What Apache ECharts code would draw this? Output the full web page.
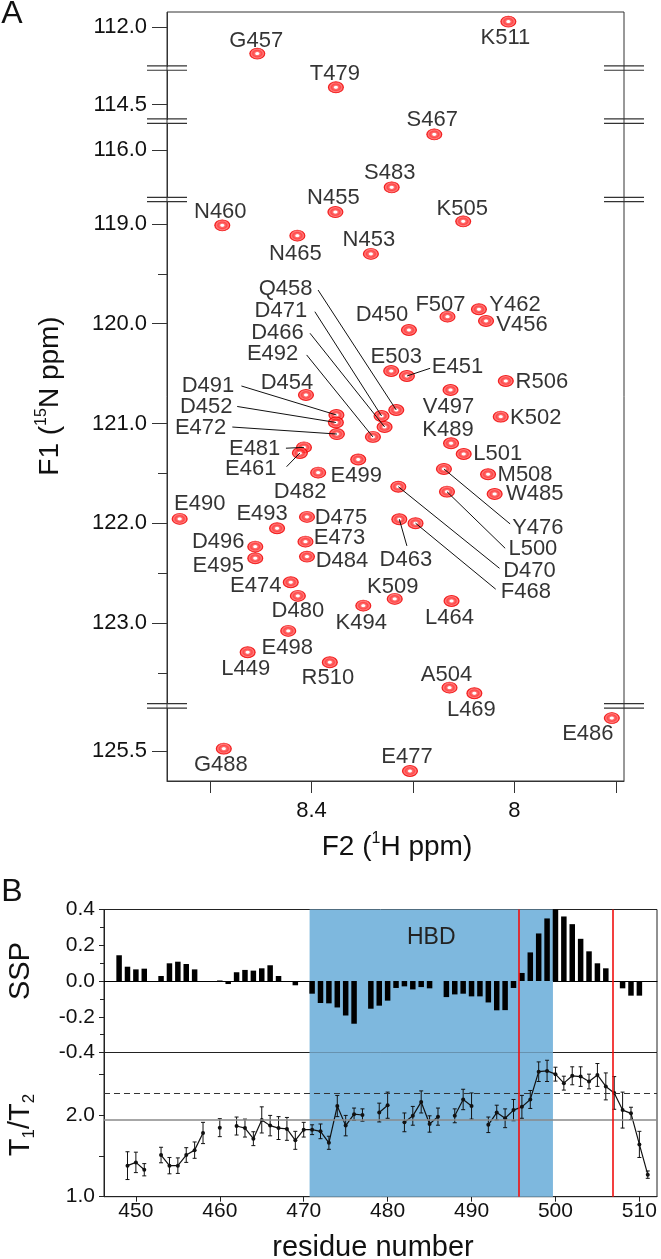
<!DOCTYPE html>
<html><head><meta charset="utf-8">
<script src="https://cdn.jsdelivr.net/npm/echarts@6/dist/echarts.min.js"></script>
<style>html,body{margin:0;padding:0;background:#fff}#c{width:661px;height:1259px}</style>
</head><body><div id="c"></div>
<script>
// ---------- Panel A data: 1H-15N HSQC peaks ----------
const peakNames = ['K511','G457','T479','S467','S483','N455','N460','K505','N465','N453',
  'F507','Y462','V456','D450','E503','E451','R506','D454','V497','K502',
  'D491','D452','E472','Q458','D471','D466','E492','K489','L501','E481',
  'E461','E499','D482','Y476','M508','W485','L500','D470','F468','D463',
  'E490','E493','D475','E473','D484','D496','E495','E474','D480','K509',
  'K494','L464','E498','L449','R510','A504','L469','E486','G488','E477'];
const peakH = [8.012,8.507,8.352,8.158,8.242,8.353,8.576,8.101,8.428,8.283,
  8.132,8.070,8.056,8.208,8.243,8.212,8.017,8.411,8.126,8.027,
  8.351,8.352,8.350,8.233,8.262,8.256,8.279,8.125,8.100,8.415,
  8.423,8.308,8.387,8.139,8.052,8.039,8.133,8.229,8.195,8.227,
  8.660,8.468,8.409,8.412,8.409,8.511,8.511,8.441,8.427,8.236,
  8.298,8.124,8.446,8.526,8.364,8.128,8.079,7.808,8.573,8.206];
const peakN = [111.946,112.267,114.327,115.844,116.375,118.880,119.013,118.973,119.117,119.300,
  119.929,119.855,119.972,120.063,120.474,120.524,120.574,120.714,120.664,120.932,
  120.915,120.990,121.106,120.865,120.925,121.035,121.135,121.198,121.306,121.240,
  121.296,121.361,121.493,121.456,121.509,121.707,121.684,121.634,122.000,121.960,
  121.957,122.051,121.937,122.185,122.335,122.235,122.351,122.592,122.729,122.759,
  122.827,122.780,123.080,123.294,123.394,123.649,123.705,125.169,125.476,125.700];
const nTickLabels = [112.0, 114.5, 116.0, 119.0, 120.0, 121.0, 122.0, 123.0, 125.5];
const nMinorTicks = [119.5, 121.5, 122.5, 123.5];
const nBreaks = [[112.39,114.156],[114.644,115.733],[116.475,118.776],[123.81,125.069]];
const hTicks = [7.8, 8.0, 8.2, 8.4, 8.6];
const hTickLabels = [8.0, 8.4];

// ---------- Panel B data ----------
const sspResidues = [448,449,450,451,452,453,454,455,456,457,458,459,460,461,462,463,464,465,466,467,468,469,470,
  471,472,473,474,475,476,477,478,479,480,481,482,483,484,485,486,487,488,489,490,491,492,493,494,495,
  496,497,498,499,500,501,502,503,504,505,506,507,508,509,510];
const sspValues = [0.144,0.080,0.065,0.069,null,0.028,0.099,0.108,0.095,0.065,null,-0.004,0.003,-0.017,0.049,0.062,0.058,0.071,0.088,0.028,-0.004,-0.024,null,
  -0.071,-0.123,-0.125,-0.148,-0.193,-0.239,null,-0.155,-0.138,-0.110,-0.039,-0.030,-0.047,-0.034,-0.041,null,-0.090,-0.075,-0.071,-0.086,-0.086,-0.120,-0.164,-0.163,-0.039,
  0.045,0.160,0.266,0.350,0.400,0.361,0.318,0.236,0.166,0.099,0.071,null,-0.041,-0.082,-0.082];
const relaxResidues = [449,450,451,452,453,454,455,456,457,458,459,460,461,462,463,464,465,466,467,468,469,470,
  471,472,473,474,475,476,477,478,479,480,481,482,483,484,485,486,487,488,489,490,491,492,493,494,495,
  496,497,498,499,500,501,502,503,504,505,506,507,508,509,510,511];
const relaxValues = [1.38,1.42,1.33,null,1.51,1.38,1.38,1.51,1.57,1.78,null,1.845,null,1.865,1.84,1.71,1.94,1.87,1.84,1.83,1.69,1.82,
  1.82,1.80,1.66,2.11,1.87,2.01,2.00,null,2.03,2.12,null,1.91,1.99,2.16,1.89,1.98,null,1.99,2.19,2.11,null,1.88,2.03,1.96,2.06,
  2.10,2.19,2.53,2.54,2.50,2.39,2.48,2.47,2.41,2.49,2.35,2.27,2.06,2.02,1.64,1.27];
const relaxErrors = [0.17,0.125,0.075,null,0.095,0.10,0.095,0.09,0.10,0.13,null,0.11,null,0.11,0.11,0.085,0.16,0.125,0.14,0.14,0.11,0.09,
  0.06,0.09,0.08,0.13,0.125,0.075,0.075,null,0.115,0.16,null,0.115,0.115,0.135,0.10,0.105,null,0.085,0.125,0.16,null,0.095,0.09,0.115,0.13,
  0.14,0.11,0.12,0.13,0.085,0.085,0.11,0.12,0.09,0.14,0.165,0.20,0.22,0.075,0.16,0.045];
const residueTicks = [450,460,470,480,490,500,510];
const relaxTickLabels = [1.0, 2.0];
const relaxTicks = [1.0, 1.5, 2.0, 2.5];
const hbdRange = [470.7, 499.7];
const redLines = [495.7, 506.8];
const relaxMean = 1.939;
const relaxDashed = 2.266;

// ---------- layout (label offsets in px relative to each peak) ----------
const labelOffsets = {K511:[-3,15],G457:[-1,-14],T479:[-1,-14],S467:[-2,-15],S483:[-2,-15],N455:[-2,-15],N460:[-2,-14],K505:[-1,-13],N465:[-2,17],N453:[-2,-15],
  F507:[-7,-13],Y462:[36,-5],V456:[36,3],D450:[-27,-16],E503:[5,-15],E451:[50.6,-10],R506:[36,0],D454:[-19,-13],V497:[-2,16],K502:[35,0],
  D491:[-128.4,-30],D452:[-129.7,-16.7],E472:[-136.3,-7],Q458:[-110.7,-121.7],D471:[-100.7,-106],D466:[-107.1,-95.3],E492:[-100.3,-84.3],K489:[-3,-14],L501:[34,-1],E481:[-49.3,0.2],
  E461:[-49.2,15.3],E499:[-2,15.5],D482:[-18,18],Y476:[93.9,57.7],M508:[37,0],W485:[40,-1],L500:[85.9,56.6],D470:[131.2,83.3],F468:[110.3,67.7],D463:[6.6,40],
  E490:[20,-16],E493:[-15,-15],D475:[34,0],E473:[34,-5],D484:[35,3],D496:[-37,-6],E495:[-37,7],E474:[-35,3],D480:[0,14],K509:[-2,-13],
  K494:[-2,16],L464:[-2,16],E498:[-1,16],L449:[-2,16],R510:[-2,15],A504:[-3,-14],L469:[-3,16],E486:[-24,15],G488:[-3,15],E477:[-3,-15]};
const leaderOffsets = {Q458:[-78.2,-120],D471:[-66.7,-104.3],D466:[-74.6,-93.7],E492:[-66.3,-82],D491:[-95,-29],D452:[-98.7,-16],E472:[-104.6,-7],
  E481:[-18,0.8],E461:[-13.3,13.7],E451:[23.2,-7.7],Y476:[66.2,55],L500:[58.2,56.6],D470:[101.2,81.6],F468:[80.2,66],D463:[7.6,26.7]};

const FONT = 'Liberation Sans, Arial, Helvetica, sans-serif';
const AX = '#333';
const chart = echarts.init(document.getElementById('c'), null, {renderer:'canvas'});

const peakData = peakNames.map((n,i)=>({name:n, value:[peakH[i], peakN[i]],
  label:{offset:[labelOffsets[n][0], labelOffsets[n][1]+1]}}));
const sspData = [];
sspResidues.forEach((r,i)=>{ if(sspValues[i]!==null) sspData.push([r, sspValues[i]]); });
const relaxData = relaxResidues.map((r,i)=> relaxValues[i]===null ? [r,'-'] : [r, relaxValues[i]]);
const errData = [];
relaxResidues.forEach((r,i)=>{ if(relaxValues[i]!==null) errData.push([r, relaxValues[i]-relaxErrors[i], relaxValues[i]+relaxErrors[i]]); });

const breakCfg = nBreaks.map(b=>({start:b[0], end:b[1], gap:'0.57%'}));
const peakFill = new echarts.graphic.RadialGradient(0.5,0.5,0.5,[
  {offset:0,color:'#ffffff'},{offset:0.18,color:'#ffffff'},{offset:0.32,color:'#ff4a4a'},
  {offset:0.55,color:'#ff1a1a'},{offset:0.75,color:'#ff5a5a'},{offset:1,color:'#f20000'}]);

const option = {
  animation:false,
  backgroundColor:'#fff',
  grid:[
    {left:167, top:12, width:457, height:769, show:true, borderColor:AX, borderWidth:1, backgroundColor:'transparent'},
    {left:104, top:909.5, width:553, height:143, show:true, borderColor:'#222', borderWidth:1, backgroundColor:'transparent'},
    {left:104, top:1052.5, width:553, height:144.2, show:true, borderColor:'#222', borderWidth:1, backgroundColor:'transparent'}
  ],
  xAxis:[
    {gridIndex:0, type:'value', inverse:true, min:7.784, max:8.685,
      axisLine:{show:true, onZero:false, lineStyle:{color:AX}},
      axisTick:{show:true, length:12, customValues:hTicks, lineStyle:{color:AX}},
      axisLabel:{customValues:hTickLabels, margin:19, fontSize:22, fontFamily:FONT, color:'#111',
        formatter:v=> Math.abs(v-8)<1e-9 ? '8' : v.toFixed(1)},
      splitLine:{show:false}},
    {gridIndex:1, type:'value', min:446.2, max:512.1,
      axisLine:{show:true, onZero:true, lineStyle:{color:'#000', width:1.2}},
      axisTick:{show:false}, axisLabel:{show:false}, splitLine:{show:false}},
    {gridIndex:2, type:'value', min:446.2, max:512.1,
      axisLine:{show:true, onZero:false, lineStyle:{color:'#222'}},
      axisTick:{show:true, length:5, customValues:residueTicks, lineStyle:{color:'#222'}},
      axisLabel:{customValues:residueTicks, margin:4, fontSize:21, fontFamily:FONT, color:'#111'},
      splitLine:{show:false}}
  ],
  yAxis:[
    {gridIndex:0, type:'value', position:'left', inverse:true, min:111.85, max:125.8, breaks:breakCfg,
      breakArea:{show:false, itemStyle:{opacity:0, borderWidth:0}},
      axisLine:{show:true, onZero:false, lineStyle:{color:AX}},
      axisTick:{show:true, length:15, customValues:nTickLabels, lineStyle:{color:AX}},
      axisLabel:{customValues:nTickLabels, margin:20, fontSize:22, fontFamily:FONT, color:'#111', formatter:v=>v.toFixed(1)},
      splitLine:{show:false}},
    {gridIndex:0, type:'value', position:'left', offset:0, inverse:true, min:111.85, max:125.8, breaks:breakCfg,
      breakArea:{show:false, itemStyle:{opacity:0, borderWidth:0}},
      axisLine:{show:false, onZero:false},
      axisTick:{show:true, length:9, customValues:nMinorTicks, lineStyle:{color:AX}},
      axisLabel:{show:false}, splitLine:{show:false}},
    {gridIndex:1, type:'value', min:-0.4, max:0.4, interval:0.2,
      axisLine:{show:true, lineStyle:{color:'#222'}},
      axisTick:{show:true, length:5, lineStyle:{color:'#222'}},
      minorTick:{show:true, splitNumber:2, length:4, lineStyle:{color:'#222'}},
      axisLabel:{margin:9, fontSize:21, fontFamily:FONT, color:'#111', formatter:v=>v.toFixed(1)},
      splitLine:{show:false}, minorSplitLine:{show:false}},
    {gridIndex:2, type:'value', min:1.0, max:2.765,
      axisLine:{show:true, lineStyle:{color:'#222'}},
      axisTick:{show:true, length:5, customValues:relaxTicks, lineStyle:{color:'#222'}},
      axisLabel:{customValues:relaxTickLabels, margin:9, fontSize:21, fontFamily:FONT, color:'#111', formatter:v=>v.toFixed(1)},
      splitLine:{show:false}}
  ],
  series:[
    {type:'scatter', xAxisIndex:0, yAxisIndex:0, data:peakData, symbol:'circle', symbolSize:[15,11], z:3,
      itemStyle:{color:peakFill, borderColor:'#f00000', borderWidth:1},
      label:{show:true, position:'inside', formatter:'{b}', fontSize:22, fontFamily:FONT, color:'#000'},
      emphasis:{disabled:true}},
    // HBD region, SSP panel
    {type:'line', xAxisIndex:1, yAxisIndex:2, data:[], z:1, silent:true,
      markArea:{silent:true, itemStyle:{color:'#7eb8de', opacity:1},
        label:{show:true, position:'insideTop', distance:17, formatter:'HBD', fontSize:23, fontFamily:FONT, color:'#222'},
        data:[[{xAxis:hbdRange[0]},{xAxis:hbdRange[1]}]]}},
    {type:'bar', xAxisIndex:1, yAxisIndex:2, data:sspData, barWidth:5.5, z:3,
      itemStyle:{color:'#000'}, emphasis:{disabled:true}},
    // HBD region + reference lines, T1/T2 panel
    {type:'line', xAxisIndex:2, yAxisIndex:3, data:[], z:1, silent:true,
      markArea:{silent:true, itemStyle:{color:'#7eb8de', opacity:1}, label:{show:false}, data:[[{xAxis:hbdRange[0]},{xAxis:hbdRange[1]}]]}},
    {type:'line', xAxisIndex:2, yAxisIndex:3, data:[], z:2, silent:true,
      markLine:{silent:true, symbol:'none', label:{show:false},
        data:[
          {yAxis:relaxMean, lineStyle:{color:'#8a8a8a', width:1.6, type:'solid'}},
          {yAxis:relaxDashed, lineStyle:{color:'#333', width:1, type:[6,4]}}
        ]}},
    {type:'custom', xAxisIndex:2, yAxisIndex:3, data:errData, z:3, silent:true,
      encode:{x:0, y:[1,2]},
      renderItem:function(params, api){
        const x = api.value(0), lo = api.value(1), hi = api.value(2);
        const p1 = api.coord([x, lo]), p2 = api.coord([x, hi]);
        const w = 2, st = {stroke:'#111', lineWidth:1};
        return {type:'group', children:[
          {type:'line', shape:{x1:p1[0], y1:p1[1], x2:p2[0], y2:p2[1]}, style:st},
          {type:'line', shape:{x1:p1[0]-w, y1:p1[1], x2:p1[0]+w, y2:p1[1]}, style:st},
          {type:'line', shape:{x1:p2[0]-w, y1:p2[1], x2:p2[0]+w, y2:p2[1]}, style:st}
        ]};
      }},
    {type:'line', xAxisIndex:2, yAxisIndex:3, data:relaxData, z:4, connectNulls:false,
      symbol:'circle', symbolSize:4, showSymbol:true, itemStyle:{color:'#111'},
      lineStyle:{color:'#111', width:1.2}, emphasis:{disabled:true}}
  ]
};
chart.setOption(option);

// ---------- annotations: break marks, leader lines, red boundaries, titles ----------
const graphics = [];
const gl = 167, gr = 624;
nBreaks.forEach(b=>{
  [b[0], b[1]].forEach(v=>{
    const py = chart.convertToPixel({yAxisIndex:0}, v);
    [gl, gr].forEach(ax=>{
      graphics.push({type:'line', silent:true, z:100, shape:{x1:ax-20, y1:py, x2:ax+20, y2:py}, style:{stroke:AX, lineWidth:1.2}});
    });
  });
});
peakNames.forEach((n,i)=>{
  const L = leaderOffsets[n];
  if(!L) return;
  const p = chart.convertToPixel({gridIndex:0}, [peakH[i], peakN[i]]);
  graphics.push({type:'line', silent:true, z:100, shape:{x1:p[0], y1:p[1], x2:p[0]+L[0], y2:p[1]+L[1]}, style:{stroke:'#111', lineWidth:1}});
});
const yTopB = chart.convertToPixel({yAxisIndex:2}, 0.4);
const yBotB = chart.convertToPixel({yAxisIndex:3}, 1.0);
redLines.forEach(v=>{
  const px = Math.round(chart.convertToPixel({xAxisIndex:1}, v));
  graphics.push({type:'line', silent:true, z:50, shape:{x1:px, y1:yTopB, x2:px, y2:yBotB}, style:{stroke:'#f01010', lineWidth:1.6}});
});
function txt(x,y,text,size,rot,rich){
  const o = {type:'text', x:x, y:y, z:100, silent:true,
    style:{text:text, fontSize:size, fontFamily:FONT, fill:'#111', align:'center', verticalAlign:'middle',
      textAlign:'center', textVerticalAlign:'middle', lineHeight:Math.round(size*1.15)}};
  if(rot) o.rotation = rot;
  if(rich) o.style.rich = rich;
  return o;
}
graphics.push(txt(12, 14, 'A', 32));
graphics.push(txt(12, 892, 'B', 32));
graphics.push(txt(397, 847, 'F2 ({s|1}H ppm)', 28, 0, {s:{fontSize:16, lineHeight:15, verticalAlign:'top', fontFamily:FONT, fill:'#111'}}));
graphics.push(txt(50, 396, 'F1 ({s|15}N ppm)', 28, Math.PI/2, {s:{fontSize:16, lineHeight:15, verticalAlign:'top', fontFamily:FONT, fill:'#111'}}));
graphics.push(txt(21, 971, 'SSP', 29, Math.PI/2));
graphics.push(txt(21, 1125, 'T{b|1}/T{b|2}', 29, Math.PI/2, {b:{fontSize:17, lineHeight:12, verticalAlign:'bottom', fontFamily:FONT, fill:'#111'}}));
graphics.push(txt(373, 1248, 'residue number', 29));
chart.setOption({graphic:{elements:graphics}});
</script>
</body></html>
